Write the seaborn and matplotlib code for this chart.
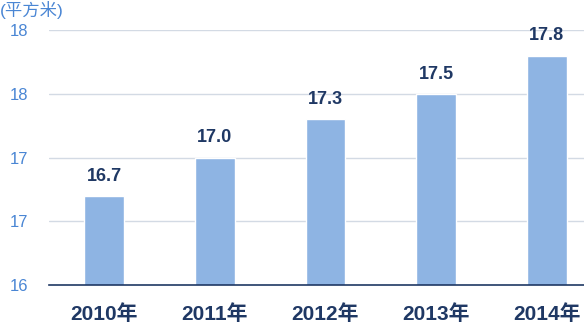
import matplotlib
matplotlib.use("Agg")
import matplotlib.pyplot as plt
import seaborn as sns
import pandas as pd

years = ["2010年", "2011年", "2012年", "2013年", "2014年"]
values = [16.7, 17.0, 17.3, 17.5, 17.8]
yticks = [16, 16.5, 17, 17.5, 18]
ytick_labels = ["16", "17", "17", "18", "18"]
unit_label = "(平方米)"

sns.set_theme(style="white")
plt.rcParams['font.family'] = ['Liberation Sans', 'Noto Sans CJK SC', 'DejaVu Sans']

df = pd.DataFrame({"year": years, "value": values})

fig = plt.figure(figsize=(5.84, 3.25), dpi=100)
ax = fig.add_axes([49/584, 40/325, 553/584, 255/325])

sns.barplot(data=df, x="year", y="value", color="#8eb4e3", width=0.36,
            saturation=1, ax=ax, zorder=3)
ax.set_ylim(16, 18)
ax.set_xlim(-0.5, 4.5)
ax.set_yticks(yticks)
ax.set_yticklabels(ytick_labels, color="#4a86d4", fontsize=12)
ax.tick_params(axis="y", length=0, pad=15)
ax.tick_params(axis="x", length=0, pad=14)
for lbl in ax.get_xticklabels():
    lbl.set_fontweight("bold")
    lbl.set_color("#1f3864")
    lbl.set_fontsize(15)
ax.set_xlabel("")
ax.set_ylabel("")
for y in yticks[1:]:
    ax.axhline(y, color="#d3dae4", lw=1, zorder=1)
for s in ["top", "right", "left"]:
    ax.spines[s].set_visible(False)
ax.spines["bottom"].set_color("#1f3864")
ax.spines["bottom"].set_linewidth(1.2)
ax.spines["bottom"].set_zorder(4)

ax.bar_label(ax.containers[0], fmt="%.1f", padding=8, fontsize=13,
             fontweight="bold", color="#1f3864")

fig.text(0/584, 1 - 10/325, unit_label, color="#4a86d4", fontsize=12.5,
         va="center", ha="left", fontweight="medium")

fig.savefig("out.png", dpi=100)
